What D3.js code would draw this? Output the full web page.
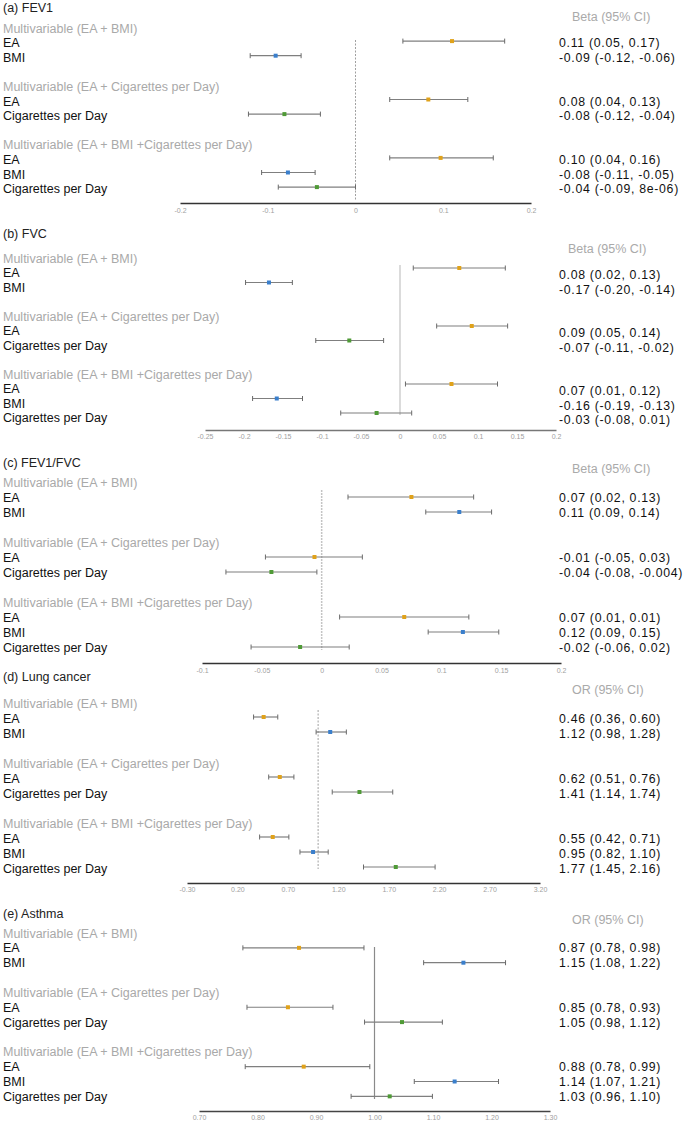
<!DOCTYPE html>
<html><head><meta charset="utf-8">
<script src="https://cdn.jsdelivr.net/npm/d3@7"></script>
<style>
html,body{margin:0;padding:0;background:#fff;}
svg{display:block;font-family:"Liberation Sans",Arial,Helvetica,sans-serif;}
</style></head><body>
<svg id="chart" width="685" height="1124"></svg>
<script>
// ---------- data ----------
const panelTitles = ["(a) FEV1", "(b) FVC", "(c) FEV1/FVC", "(d) Lung cancer", "(e) Asthma"];
const effectHeaders = ["Beta (95% CI)", "Beta (95% CI)", "Beta (95% CI)", "OR (95% CI)", "OR (95% CI)"];
const groupLabels = ["Multivariable (EA + BMI)", "Multivariable (EA + Cigarettes per Day)", "Multivariable (EA + BMI +Cigarettes per Day)"];
const rowGroups = [0, 0, 1, 1, 2, 2, 2];
const rowExposures = ["EA", "BMI", "EA", "Cigarettes per Day", "EA", "BMI", "Cigarettes per Day"];

const fev1Est  = [0.110, -0.091, 0.083, -0.081, 0.097, -0.077, -0.044];
const fev1Low  = [0.054, -0.120, 0.039, -0.122, 0.039, -0.107, -0.088];
const fev1High = [0.170, -0.062, 0.128, -0.040, 0.157, -0.046, 0.000];
const fev1Text = ["0.11 (0.05, 0.17)", "-0.09 (-0.12, -0.06)", "0.08 (0.04, 0.13)", "-0.08 (-0.12, -0.04)", "0.10 (0.04, 0.16)", "-0.08 (-0.11, -0.05)", "-0.04 (-0.09, 8e-06)"];
const fev1Ticks = [-0.2, -0.1, 0, 0.1, 0.2];
const fev1TickLabels = ["-0.2", "-0.1", "0", "0.1", "0.2"];

const fvcEst  = [0.076, -0.168, 0.092, -0.065, 0.066, -0.158, -0.030];
const fvcLow  = [0.017, -0.198, 0.047, -0.108, 0.007, -0.189, -0.076];
const fvcHigh = [0.135, -0.138, 0.138, -0.021, 0.125, -0.125, 0.015];
const fvcText = ["0.08 (0.02, 0.13)", "-0.17 (-0.20, -0.14)", "0.09 (0.05, 0.14)", "-0.07 (-0.11, -0.02)", "0.07 (0.01, 0.12)", "-0.16 (-0.19, -0.13)", "-0.03 (-0.08, 0.01)"];
const fvcTicks = [-0.25, -0.2, -0.15, -0.1, -0.05, 0, 0.05, 0.1, 0.15, 0.2];
const fvcTickLabels = ["-0.25", "-0.2", "-0.15", "-0.1", "-0.05", "0", "0.05", "0.1", "0.15", "0.2"];

const ratioEst  = [0.075, 0.115, -0.006, -0.042, 0.069, 0.118, -0.018];
const ratioLow  = [0.022, 0.087, -0.047, -0.080, 0.015, 0.089, -0.059];
const ratioHigh = [0.127, 0.142, 0.034, -0.004, 0.123, 0.148, 0.023];
const ratioText = ["0.07 (0.02, 0.13)", "0.11 (0.09, 0.14)", "-0.01 (-0.05, 0.03)", "-0.04 (-0.08, -0.004)", "0.07 (0.01, 0.01)", "0.12 (0.09, 0.15)", "-0.02 (-0.06, 0.02)"];
const ratioTicks = [-0.1, -0.05, 0, 0.05, 0.1, 0.15, 0.2];
const ratioTickLabels = ["-0.1", "-0.05", "0", "0.05", "0.1", "0.15", "0.2"];

const lungEst  = [0.46, 1.12, 0.62, 1.41, 0.55, 0.95, 1.77];
const lungLow  = [0.36, 0.98, 0.51, 1.14, 0.42, 0.82, 1.45];
const lungHigh = [0.60, 1.28, 0.76, 1.74, 0.71, 1.10, 2.16];
const lungText = ["0.46 (0.36, 0.60)", "1.12 (0.98, 1.28)", "0.62 (0.51, 0.76)", "1.41 (1.14, 1.74)", "0.55 (0.42, 0.71)", "0.95 (0.82, 1.10)", "1.77 (1.45, 2.16)"];
const lungTicks = [-0.3, 0.2, 0.7, 1.2, 1.7, 2.2, 2.7, 3.2];
const lungTickLabels = ["-0.30", "0.20", "0.70", "1.20", "1.70", "2.20", "2.70", "3.20"];

const asthmaEst  = [0.871, 1.152, 0.852, 1.047, 0.879, 1.137, 1.026];
const asthmaLow  = [0.775, 1.084, 0.782, 0.983, 0.779, 1.068, 0.960];
const asthmaHigh = [0.982, 1.224, 0.929, 1.116, 0.992, 1.212, 1.099];
const asthmaText = ["0.87 (0.78, 0.98)", "1.15 (1.08, 1.22)", "0.85 (0.78, 0.93)", "1.05 (0.98, 1.12)", "0.88 (0.78, 0.99)", "1.14 (1.07, 1.21)", "1.03 (0.96, 1.10)"];
const asthmaTicks = [0.7, 0.8, 0.9, 1.0, 1.1, 1.2, 1.3];
const asthmaTickLabels = ["0.70", "0.80", "0.90", "1.00", "1.10", "1.20", "1.30"];

const nullValues = [0, 0, 0, 1, 1];

// ---------- layout / style ----------
const exposureColor = {"EA": "#e0a21a", "BMI": "#3a7fcc", "Cigarettes per Day": "#4f9a36"};
const panelData = [
  {est: fev1Est, low: fev1Low, high: fev1High, text: fev1Text, ticks: fev1Ticks, tickLabels: fev1TickLabels},
  {est: fvcEst, low: fvcLow, high: fvcHigh, text: fvcText, ticks: fvcTicks, tickLabels: fvcTickLabels},
  {est: ratioEst, low: ratioLow, high: ratioHigh, text: ratioText, ticks: ratioTicks, tickLabels: ratioTickLabels},
  {est: lungEst, low: lungLow, high: lungHigh, text: lungText, ticks: lungTicks, tickLabels: lungTickLabels},
  {est: asthmaEst, low: asthmaLow, high: asthmaHigh, text: asthmaText, ticks: asthmaTicks, tickLabels: asthmaTickLabels}
];
const layout = [
  {titleY: 7, headerY: 16, headerX: 572, top: 28, step: 14.6, axisY: 203, markDy: -1.5, valueDy: 0, x0: 180, x1: 531,
   zero: {stroke: "#888", width: 0.8, dash: "2,1.5", y0: 40, y1: 200}, axisColor: "#333", tickDy: 9},
  {titleY: 233, headerY: 248, headerX: 568, top: 258, step: 14.5, axisY: 430, markDy: -4.5, valueDy: 2, x0: 205, x1: 556,
   zero: {stroke: "#cfcfcf", width: 1.5, dash: null, y0: 265, y1: 415}, axisColor: "#777", tickDy: 8},
  {titleY: 462, headerY: 468, headerX: 572, top: 482, step: 15, axisY: 663, markDy: 0, valueDy: 0, x0: 202, x1: 561,
   zero: {stroke: "#c4c4c4", width: 1.5, dash: "2,1", y0: 490, y1: 650}, axisColor: "#333", tickDy: 9},
  {titleY: 676, headerY: 689, headerX: 572, top: 703, step: 15, axisY: 883, markDy: -1, valueDy: 0, x0: 187, x1: 540,
   zero: {stroke: "#888", width: 0.8, dash: "2,1.5", y0: 710, y1: 869}, axisColor: "#333", tickDy: 8},
  {titleY: 913, headerY: 919, headerX: 572, top: 933, step: 14.85, axisY: 1111, markDy: 0, valueDy: 0, x0: 199, x1: 550,
   zero: {stroke: "#8a8a8a", width: 1.2, dash: null, y0: 947, y1: 1099}, axisColor: "#444", tickDy: 8}
];
const rowLine = [1, 2, 5, 6, 9, 10, 11];
const groupLine = [0, 4, 8];
const labelX = 3, valueX = 559;

const svg = d3.select("#chart");

panelData.forEach((pd, p) => {
  const L = layout[p];
  const g = svg.append("g");
  const x = d3.scaleLinear().domain(d3.extent(pd.ticks)).range([L.x0, L.x1]);
  const line = d3.scaleLinear().domain([0, 1]).range([L.top, L.top + L.step]);

  // title + header
  g.append("text").attr("x", labelX).attr("y", L.titleY + 4.5)
    .attr("font-size", 12.5).attr("fill", "#222").text(panelTitles[p]);
  g.append("text").attr("x", L.headerX).attr("y", L.headerY + 4.5)
    .attr("font-size", 12.5).attr("fill", "#aaa").text(effectHeaders[p]);

  // group labels
  g.selectAll("text.grp").data(groupLabels).join("text").attr("class", "grp")
    .attr("x", labelX).attr("y", (d, i) => line(groupLine[i]) + 4.5)
    .attr("font-size", 12.5).attr("fill", "#a9a9a9").text(d => d);

  // row labels
  g.selectAll("text.row").data(rowExposures).join("text").attr("class", "row")
    .attr("x", labelX).attr("y", (d, i) => line(rowLine[i]) + 4.5)
    .attr("font-size", 12.5).attr("fill", "#111").text(d => d);

  // values
  g.selectAll("text.val").data(pd.text).join("text").attr("class", "val")
    .attr("x", valueX).attr("y", (d, i) => line(rowLine[i]) + 4.5 + L.valueDy)
    .attr("font-size", 12.3).attr("letter-spacing", 0.7).attr("fill", "#111").text(d => d);

  // null line
  g.append("line").attr("x1", x(nullValues[p])).attr("x2", x(nullValues[p]))
    .attr("y1", L.zero.y0).attr("y2", L.zero.y1)
    .attr("stroke", L.zero.stroke).attr("stroke-width", L.zero.width)
    .attr("stroke-dasharray", L.zero.dash);

  const rows = pd.est.map((e, i) => ({e, lo: pd.low[i], hi: pd.high[i], exp: rowExposures[i], y: line(rowLine[i]) + L.markDy}));

  // CI bars
  g.selectAll("line.ci").data(rows).join("line").attr("class", "ci")
    .attr("x1", d => x(d.lo)).attr("x2", d => x(d.hi))
    .attr("y1", d => d.y).attr("y2", d => d.y)
    .attr("stroke", "#7f7f7f").attr("stroke-width", 1.2);
  ["lo", "hi"].forEach(k => {
    g.selectAll("line.cap" + k).data(rows).join("line").attr("class", "cap" + k)
      .attr("x1", d => x(d[k])).attr("x2", d => x(d[k]))
      .attr("y1", d => d.y - 2.5).attr("y2", d => d.y + 2.5)
      .attr("stroke", "#6a6a6a").attr("stroke-width", 1);
  });
  // points
  g.selectAll("rect.pt").data(rows).join("rect").attr("class", "pt")
    .attr("x", d => x(d.e) - 2).attr("y", d => d.y - 2)
    .attr("width", 4).attr("height", 4)
    .attr("fill", d => exposureColor[d.exp]);

  // axis
  const ax = g.append("g").attr("transform", `translate(0,${L.axisY})`)
    .call(d3.axisBottom(x).tickValues(pd.ticks).tickSize(0).tickPadding(L.tickDy - 4)
      .tickFormat((d, i) => pd.tickLabels[i]));
  ax.select(".domain").attr("stroke", L.axisColor).attr("stroke-width", 1.6);
  ax.selectAll("text").attr("font-size", 7).attr("fill", "#a0a0a0")
    .attr("font-family", "'Liberation Sans', Arial, sans-serif");
});
</script>
</body></html>
